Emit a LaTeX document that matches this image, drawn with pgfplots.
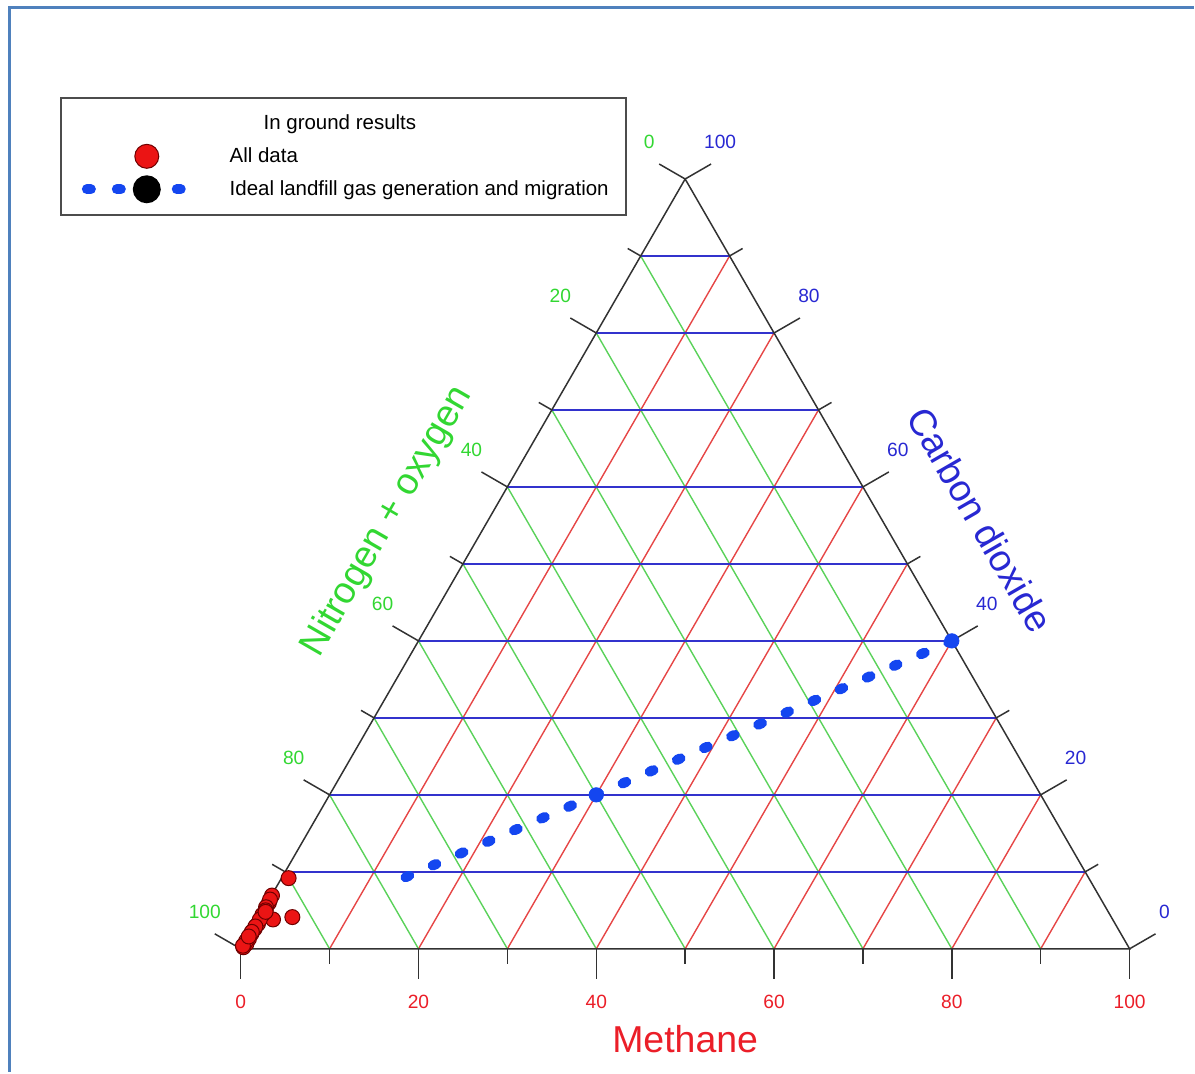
\documentclass[border=0pt]{standalone}
\usepackage{fontspec}
\setmainfont{Liberation Sans}
\usepackage{pgfplots}
\pgfplotsset{compat=1.18}
\usepackage{pgfplotstable}

\definecolor{gridgreen}{RGB}{90,210,90}
\definecolor{labgreen}{RGB}{50,215,50}
\definecolor{gridred}{RGB}{230,70,70}
\definecolor{labred}{RGB}{235,30,40}
\definecolor{gridblue}{RGB}{50,50,205}
\definecolor{labblue}{RGB}{40,40,210}
\definecolor{dotblue}{RGB}{20,70,240}
\definecolor{framebl}{RGB}{79,129,189}
\definecolor{ptred}{RGB}{235,20,20}
\definecolor{ptedge}{RGB}{110,0,0}
\definecolor{triline}{RGB}{50,50,50}

\tikzset{
  tri/.style={triline, line width=0.75pt},
  tl/.style={font=\fontsize{9.6}{11}\selectfont},
  gl/.style={line width=0.7pt},
}

% ternary values: m = methane, c = carbon dioxide, n = nitrogen + oxygen (%)
\pgfplotstableread{
m c n
0.80 9.18 90.02
3.75 4.12 92.13
0.06 6.92 93.02
0.19 5.97 93.84
1.73 3.81 94.46
0.23 4.42 95.35
0.32 3.25 96.43
0.27 2.60 97.13
0.23 1.95 97.82
0.28 1.30 98.42
0.32 0.65 99.03
0.20 0.20 99.60
0.10 6.40 93.50
0.15 5.40 94.45
0.30 5.00 94.70
0.25 3.80 95.95
0.20 2.90 96.90
0.15 2.20 97.65
0.10 1.00 98.90
0.05 0.40 99.55
0.40 4.80 94.80
0.10 1.60 98.30
}\alldata

\pgfplotstableread{
m c n
60 40 0
30 20 50
13.6 9.1 77.3
}\ideal

\pgfplotstableread{
m c n
60 40 0
30 20 50
}\idealpts

\begin{document}
\begin{tikzpicture}
\begin{axis}[
  width=597.5pt, height=536.5pt, scale only axis,
  xmin=-27.079, xmax=107.191, ymin=-13.820, ymax=106.742,
  hide axis, clip=false,
  legend style={
    at={(axis cs:-20.34,95.84)}, anchor=north west,
    draw=black!70, line width=1pt, fill=white,
    inner xsep=0pt, inner ysep=4.5pt,
    row sep=0pt, column sep=0pt,
    font=\fontsize{10.25}{12}\selectfont,
    nodes={inner sep=0pt, minimum height=16.5pt, anchor=west},
  },
  legend cell align=left,
]
\path (rel axis cs:0,0) rectangle (rel axis cs:1,1);
% outer frame
\draw[framebl, line width=1.5pt] (axis cs:-25.96,-13.82) -- (axis cs:-25.96,105.84) -- (axis cs:107.191,105.84);

% grid lines
\pgfplotsinvokeforeach{10,20,...,90}{
  \draw[gridgreen, gl] (axis cs:{100-#1},0) -- (axis cs:{(100-#1)/2},{0.8660254*(100-#1)});
  \draw[gridred, gl] (axis cs:#1,0) -- (axis cs:{50+#1/2},{0.8660254*(100-#1)});
}
\pgfplotsinvokeforeach{10,20,...,90}{
  \draw[gridblue, gl] (axis cs:{#1/2},{0.8660254*#1}) -- (axis cs:{100-#1/2},{0.8660254*#1});
}

% triangle
\draw[tri] (axis cs:0,0) -- (axis cs:100,0) -- (axis cs:50,86.60254) -- cycle;

% major ticks and labels
\pgfplotsinvokeforeach{0,20,...,100}{
  \draw[tri] (axis cs:#1,0) -- (axis cs:#1,-3.37);
  \draw[tri] (axis cs:{#1/2},{0.8660254*#1}) -- (axis cs:{#1/2-2.918},{0.8660254*#1+1.685});
  \draw[tri] (axis cs:{100-#1/2},{0.8660254*#1}) -- (axis cs:{100-#1/2+2.918},{0.8660254*#1+1.685});
  \node[tl, labred] at (axis cs:#1,-5.955) {#1};
  \node[tl, labblue] at (axis cs:{100-#1/2+3.93},{0.8660254*#1+4.16}) {#1};
  \node[tl, labgreen] at (axis cs:{50-#1/2-4.04},{0.8660254*(100-#1)+4.16}) {#1};
}
% minor ticks
\pgfplotsinvokeforeach{10,30,...,90}{
  \draw[tri] (axis cs:#1,0) -- (axis cs:#1,-1.69);
  \draw[tri] (axis cs:{#1/2},{0.8660254*#1}) -- (axis cs:{#1/2-1.464},{0.8660254*#1+0.845});
  \draw[tri] (axis cs:{100-#1/2},{0.8660254*#1}) -- (axis cs:{100-#1/2+1.464},{0.8660254*#1+0.845});
}

% axis titles
\node[labred, font=\fontsize{18.75}{22}\selectfont] at (axis cs:50,-10.11) {Methane};
\node[labgreen, font=\fontsize{18.75}{22}\selectfont, rotate=60] at (axis cs:16.5,48.1) {Nitrogen + oxygen};
\node[labblue, font=\fontsize{18.75}{22}\selectfont, rotate=-60] at (axis cs:83.2,48.3) {Carbon dioxide};

% legend title
\addlegendimage{empty legend}
\addlegendentry{\hspace*{17pt}In ground results}

% ideal line
\addplot[forget plot, dotblue, line width=5pt, line cap=round, dash pattern=on 2pt off 12.8pt]
  table[x expr={\thisrow{m}+0.5*\thisrow{c}}, y expr={0.8660254*\thisrow{c}}] {\ideal};
\addplot[forget plot, only marks, mark=*, mark size=3.6pt, mark options={fill=dotblue, draw=dotblue, solid}]
  table[x expr={\thisrow{m}+0.5*\thisrow{c}}, y expr={0.8660254*\thisrow{c}}] {\idealpts};

% all data
\addplot[only marks, mark=*, mark size=3.75pt, mark options={fill=ptred, draw=ptedge, line width=0.5pt},
  legend image code/.code={
    \path[draw=none, fill=none] (0pt,0pt) -- (84.5pt,0pt);
    \draw[fill=ptred, draw=ptedge, line width=0.5pt] (43pt,0pt) circle (6pt);
  }]
  table[x expr={\thisrow{m}+0.5*\thisrow{c}}, y expr={0.8660254*\thisrow{c}}] {\alldata};
\addlegendentry{All data}

\addlegendimage{legend image code/.code={
    \path[draw=none, fill=none] (0pt,0pt) -- (84.5pt,0pt);
    \draw[solid, dotblue, line width=5pt, line cap=round] (13pt,0pt) -- (15pt,0pt);
    \draw[solid, dotblue, line width=5pt, line cap=round] (28pt,0pt) -- (30pt,0pt);
    \draw[solid, dotblue, line width=5pt, line cap=round] (58pt,0pt) -- (60pt,0pt);
    \fill[black] (43pt,0pt) circle (6.5pt);
  }}
\addlegendentry{Ideal landfill gas generation and migration\hspace*{8.5pt}}
\end{axis}
\end{tikzpicture}
\end{document}
